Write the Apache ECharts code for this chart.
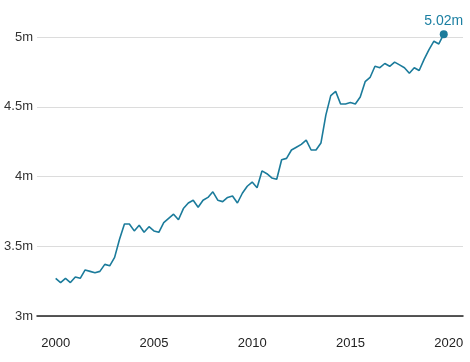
<!DOCTYPE html>
<html>
<head>
<meta charset="utf-8">
<script src="https://cdn.jsdelivr.net/npm/echarts@6/dist/echarts.min.js"></script>
<style>
html,body{margin:0;padding:0;background:#fff;}
#chart{width:470px;height:362px;}
</style>
</head>
<body>
<div id="chart"></div>
<script>
// Quarterly values (millions), 2000 Q1 .. 2019 Q4
var startYear = 2000;
var values = [
  3.27, 3.24, 3.27, 3.24,
  3.28, 3.27, 3.33, 3.32,
  3.31, 3.32, 3.37, 3.36,
  3.42, 3.55, 3.66, 3.66,
  3.61, 3.65, 3.60, 3.64,
  3.61, 3.60, 3.67, 3.70,
  3.73, 3.69, 3.77, 3.81,
  3.83, 3.78, 3.83, 3.85,
  3.89, 3.83, 3.82, 3.85,
  3.86, 3.81, 3.88, 3.93,
  3.96, 3.92, 4.04, 4.02,
  3.99, 3.98, 4.12, 4.13,
  4.19, 4.21, 4.23, 4.26,
  4.19, 4.19, 4.24, 4.44,
  4.58, 4.61, 4.52, 4.52,
  4.53, 4.52, 4.57, 4.68,
  4.71, 4.79, 4.78, 4.81,
  4.79, 4.82, 4.80, 4.78,
  4.74, 4.78, 4.76, 4.84,
  4.91, 4.97, 4.95, 5.02
];
var xTickLabels = [2000, 2005, 2010, 2015, 2020];

var lineColor = '#1b7b9b';
var font = "'Liberation Sans', Arial, Helvetica, sans-serif";

var data = values.map(function (v, i) { return [startYear + i / 4, v]; });
var lastPoint = [data[data.length - 1]];

var chart = echarts.init(document.getElementById('chart'), null, { renderer: 'canvas' });
chart.setOption({
  animation: false,
  backgroundColor: '#fff',
  grid: { left: 37, right: 7, top: 37, bottom: 46, containLabel: false },
  xAxis: {
    type: 'value',
    min: 1999.05,
    max: 2020.73,
    axisLine: { show: true, onZero: false, lineStyle: { color: '#222', width: 1.5 } },
    axisTick: { show: false },
    splitLine: { show: false },
    axisLabel: {
      customValues: xTickLabels,
      showMinLabel: true,
      showMaxLabel: true,
      margin: 21,
      color: '#222',
      fontSize: 13,
      fontFamily: font,
      formatter: function (v) { return String(Math.round(v)); }
    }
  },
  yAxis: {
    type: 'value',
    min: 3,
    max: 5,
    interval: 0.5,
    axisLine: { show: false },
    axisTick: { show: false },
    splitLine: { show: true, lineStyle: { color: '#dcdcdc', width: 1 } },
    axisLabel: {
      margin: 4,
      color: '#333',
      fontSize: 13,
      fontFamily: font,
      formatter: function (v) { return v + 'm'; }
    }
  },
  series: [{
    type: 'line',
    data: data,
    symbol: 'none',
    clip: false,
    lineStyle: { color: lineColor, width: 1.6 },
    itemStyle: { color: lineColor },
    z: 3
  }, {
    type: 'scatter',
    data: lastPoint,
    symbol: 'circle',
    symbolSize: 8,
    clip: false,
    itemStyle: { color: lineColor, opacity: 1 },
    label: {
      show: true,
      position: 'top',
      distance: 2,
      formatter: function (p) { return p.value[1].toFixed(2) + 'm'; },
      color: '#1b7fa2',
      fontSize: 14,
      fontFamily: font
    },
    z: 4
  }]
});
</script>
</body>
</html>
